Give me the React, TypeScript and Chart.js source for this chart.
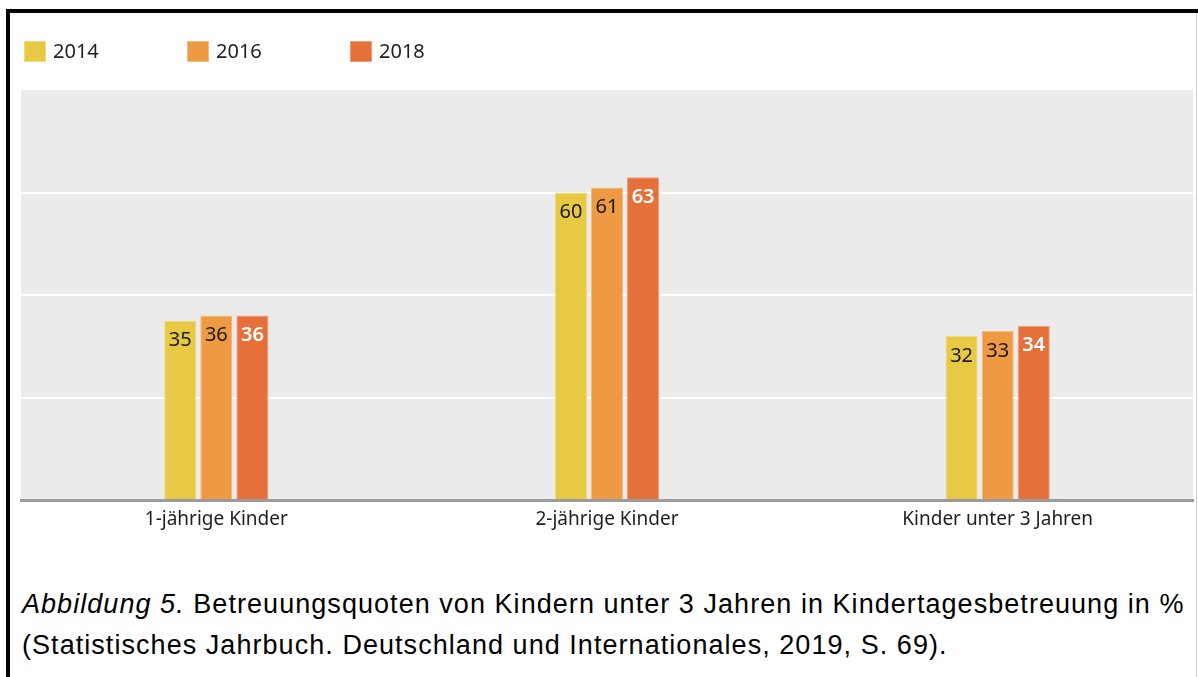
import React, { useEffect, useRef } from "react";
import { Chart, registerables } from "chart.js";

Chart.register(...registerables);

const categories = ["1-jährige Kinder", "2-jährige Kinder", "Kinder unter 3 Jahren"];
const years = ["2014", "2016", "2018"];
const values2014 = [35, 60, 32];
const values2016 = [36, 61, 33];
const values2018 = [36, 63, 34];
const yTicks = [0, 20, 40, 60, 80];

const colors = ["#E8C944", "#EE9A43", "#E5703A"];
const borders = ["#F0D97E", "#F4BA80", "#EE9C78"];
const labelColors = ["#1a1a1a", "#1a1a1a", "#ffffff"];
const labelWeights = ["normal", "normal", "600"];
const FONT = "'Noto Sans', 'Open Sans', sans-serif";

const bgPlugin = {
  id: "plotBg",
  beforeDraw(chart: any) {
    const { ctx, chartArea } = chart;
    ctx.save();
    ctx.fillStyle = "#EBEBEB";
    ctx.fillRect(chartArea.left, chartArea.top, chartArea.right - chartArea.left, chartArea.bottom - chartArea.top);
    ctx.restore();
  },
};

const labelPlugin = {
  id: "barLabels",
  afterDatasetsDraw(chart: any) {
    const { ctx } = chart;
    ctx.save();
    ctx.textAlign = "center";
    ctx.textBaseline = "middle";
    chart.data.datasets.forEach((ds: any, i: number) => {
      const meta = chart.getDatasetMeta(i);
      meta.data.forEach((el: any, j: number) => {
        ctx.fillStyle = labelColors[i];
        ctx.font = `${labelWeights[i]} 20px ${FONT}`;
        ctx.fillText(String(ds.data[j]), el.x, el.y + 20);
      });
    });
    ctx.restore();
  },
};

const legendPlugin = {
  id: "customLegend",
  afterDraw(chart: any) {
    const { ctx } = chart;
    ctx.save();
    chart.data.datasets.forEach((ds: any, i: number) => {
      const x = 24 + i * 163;
      const y = 41;
      ctx.fillStyle = ds.backgroundColor;
      ctx.fillRect(x, y, 22, 21);
      ctx.strokeStyle = ds.borderColor;
      ctx.lineWidth = 1;
      ctx.strokeRect(x + 0.5, y + 0.5, 21, 20);
      ctx.fillStyle = "#222";
      ctx.font = `20px ${FONT}`;
      ctx.textAlign = "left";
      ctx.textBaseline = "middle";
      ctx.fillText(ds.label, x + 29, y + 11);
    });
    ctx.restore();
  },
};

export default function App() {
  const ref = useRef<HTMLCanvasElement>(null);
  useEffect(() => {
    if (!ref.current) return;
    const series = [values2014, values2016, values2018];
    const chart = new Chart(ref.current, {
      type: "bar",
      data: {
        labels: categories,
        datasets: years.map((y, i) => ({
          label: y,
          data: series[i],
          backgroundColor: colors[i],
          borderColor: borders[i],
          borderWidth: { top: 1, left: 1, right: 1, bottom: 0 },
          borderSkipped: "bottom",
          categoryPercentage: 0.277,
          barPercentage: 0.89,
        })),
      },
      options: {
        responsive: false,
        animation: false,
        layout: { padding: { left: 21, right: 5, top: 90, bottom: 0 } },
        plugins: { legend: { display: false }, tooltip: { enabled: false } },
        scales: {
          x: {
            grid: { display: false },
            border: { display: true, color: "#9b9b9b", width: 3 },
            ticks: { color: "#1e1e1e", font: { family: FONT, size: 19 }, padding: 0 },
            afterFit: (s: any) => { s.height = 60; },
          },
          y: {
            min: yTicks[0],
            max: yTicks[yTicks.length - 1],
            afterBuildTicks: (s: any) => { s.ticks = yTicks.map((v) => ({ value: v })); },
            ticks: { display: false },
            grid: {
              drawTicks: false,
              lineWidth: 2,
              color: (c: any) => (c.tick && (c.tick.value === 0 || c.tick.value === 80) ? "rgba(0,0,0,0)" : "#ffffff"),
            },
            border: { display: false },
            afterFit: (s: any) => { s.width = 0; },
          },
        },
      },
      plugins: [bgPlugin, labelPlugin, legendPlugin],
    });
    return () => chart.destroy();
  }, []);

  return (
    <div style={{ position: "absolute", left: 0, top: 0, width: 1198, height: 677, background: "#fff", overflow: "hidden" }}>
      <canvas ref={ref} width={1198} height={560} style={{ position: "absolute", left: 0, top: 0, width: 1198, height: 560 }} />
      <div style={{ position: "absolute", left: 6, top: 9, width: 1192, height: 4, background: "#000" }} />
      <div style={{ position: "absolute", left: 6, top: 9, width: 4, height: 668, background: "#000" }} />
      <div style={{ position: "absolute", left: 1196, top: 13, width: 1, height: 664, background: "#cfcfcf" }} />
      <div
        style={{
          position: "absolute",
          left: 22,
          top: 584,
          fontFamily: "'Liberation Sans', Arial, sans-serif",
          fontSize: 27,
          letterSpacing: "1.05px",
          lineHeight: "41px",
          color: "#000",
          whiteSpace: "nowrap",
        }}
      >
        <div><i>Abbildung 5.</i> Betreuungsquoten von Kindern unter 3 Jahren in Kindertagesbetreuung in %</div>
        <div>(Statistisches Jahrbuch. Deutschland und Internationales, 2019, S. 69).</div>
      </div>
    </div>
  );
}
